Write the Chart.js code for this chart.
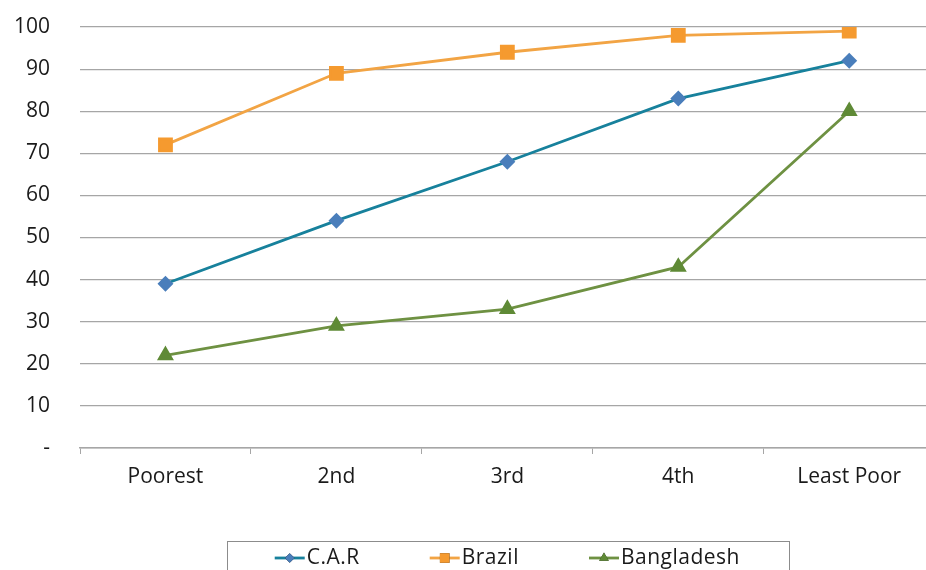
<!DOCTYPE html>
<html>
<head>
<meta charset="utf-8">
<script src="https://cdn.jsdelivr.net/npm/chart.js@4.4.1/dist/chart.umd.min.js"></script>
<style>
  html, body { margin: 0; padding: 0; background: #ffffff; overflow: hidden; }
  #wrap { width: 946px; height: 570px; }
</style>
</head>
<body>
<div id="wrap"><canvas id="chart" width="946" height="570"></canvas></div>
<script>
// Wealth quintiles
const categories = ['Poorest', '2nd', '3rd', '4th', 'Least Poor'];

// Percentages per quintile
const carValues = [39, 54, 68, 83, 92];
const brazilValues = [72, 89, 94, 98, 99];
const bangladeshValues = [22, 29, 33, 43, 80];

const seriesNames = ['C.A.R', 'Brazil', 'Bangladesh'];
const yTickValues = [0, 10, 20, 30, 40, 50, 60, 70, 80, 90, 100];

const FONT = '"Open Sans", "Noto Sans", sans-serif';
const TEXT = '#1a1a1a';
const GRID = '#a6a6a6';

// Boxed legend along the bottom: a short line with the series marker, then the name
const boxLegend = {
  id: 'boxLegend',
  afterDraw(chart) {
    const ctx = chart.ctx;
    const area = chart.chartArea;
    const cx = (area.left + area.right) / 2;
    const sample = 30, textGap = 2, itemGap = 70;
    ctx.save();
    ctx.font = '21px ' + FONT;
    ctx.letterSpacing = '0.5px';
    const items = chart.data.datasets.map(ds => ({
      ds, w: sample + textGap + ctx.measureText(ds.label).width
    }));
    const total = items.reduce((s, it) => s + it.w, 0) + itemGap * (items.length - 1);
    // frame
    ctx.strokeStyle = '#8c8c8c';
    ctx.lineWidth = 1;
    ctx.strokeRect(227.5, 541.5, 562, 40);
    const y = 558;
    let x = cx - total / 2;
    items.forEach(it => {
      const ds = it.ds;
      ctx.strokeStyle = ds.borderColor;
      ctx.lineWidth = 2.8;
      ctx.beginPath();
      ctx.moveTo(x, y);
      ctx.lineTo(x + sample, y);
      ctx.stroke();
      Chart.helpers.drawPoint(ctx, {
        pointStyle: ds.pointStyle,
        radius: ds.pointRadius * 0.8,
        borderWidth: 0
      }, x + sample / 2, y);
      ctx.fillStyle = ds.pointBackgroundColor;
      ctx.fill();
      ctx.fillStyle = TEXT;
      ctx.textBaseline = 'middle';
      ctx.textAlign = 'left';
      ctx.fillText(ds.label, x + sample + textGap, y);
      x += it.w + itemGap;
    });
    ctx.restore();
  }
};

new Chart(document.getElementById('chart'), {
  type: 'line',
  data: {
    labels: categories,
    datasets: [
      {
        label: seriesNames[0],
        data: carValues,
        borderColor: '#17819c',
        pointBackgroundColor: '#4a7ebb',
        pointBorderColor: '#4a7ebb',
        pointStyle: 'rectRot',
        pointRadius: 6,
        borderWidth: 2.8
      },
      {
        label: seriesNames[1],
        data: brazilValues,
        borderColor: '#f2a444',
        pointBackgroundColor: '#f59a2f',
        pointBorderColor: '#f59a2f',
        pointStyle: 'rect',
        pointRadius: 8.5,
        borderWidth: 2.8
      },
      {
        label: seriesNames[2],
        data: bangladeshValues,
        borderColor: '#6e9142',
        pointBackgroundColor: '#5f8a36',
        pointBorderColor: '#5f8a36',
        pointStyle: 'triangle',
        pointRadius: 7,
        borderWidth: 2.8
      }
    ]
  },
  options: {
    responsive: false,
    animation: false,
    layout: { padding: { top: 27, right: 4, bottom: 0, left: 0 } },
    plugins: {
      legend: { display: false },
      tooltip: { enabled: false }
    },
    elements: { line: { tension: 0 } },
    scales: {
      x: {
        offset: true,
        grid: {
          offset: true,
          drawOnChartArea: false,
          drawTicks: true,
          tickLength: 6,
          color: GRID
        },
        border: { display: true, color: GRID, width: 1.5 },
        ticks: {
          padding: 10,
          color: TEXT,
          font: { family: FONT, size: 21 }
        },
        afterFit(s) { s.height = 122; }
      },
      y: {
        min: 0,
        max: 100,
        afterBuildTicks(s) { s.ticks = yTickValues.map(v => ({ value: v })); },
        grid: {
          drawTicks: true,
          tickLength: 30,
          tickColor: 'rgba(0,0,0,0)',
          color: GRID,
          lineWidth: 1.2
        },
        border: { display: false },
        ticks: {
          padding: 0,
          color: TEXT,
          font: { family: FONT, size: 21 },
          callback: v => (v === 0 ? '-' : String(v))
        },
        afterFit(s) { s.width = 80; }
      }
    }
  },
  plugins: [boxLegend]
});
</script>
</body>
</html>
